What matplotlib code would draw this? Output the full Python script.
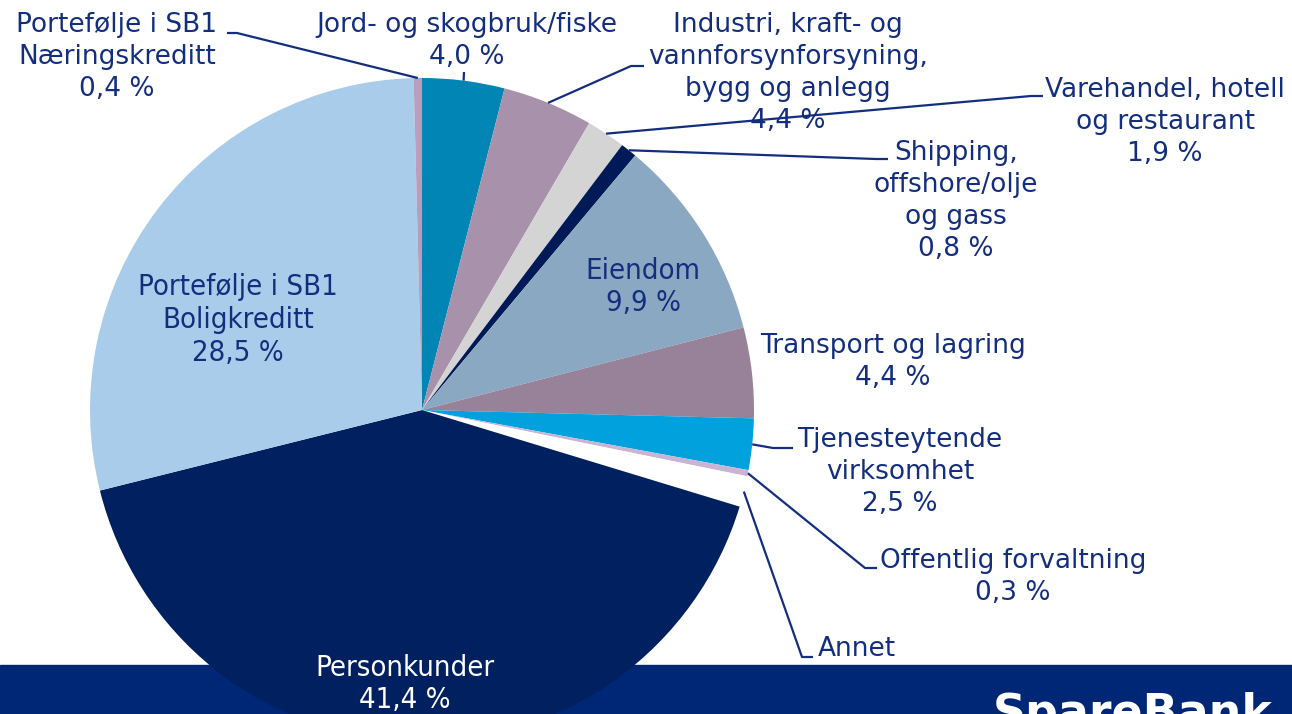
import matplotlib
matplotlib.use("Agg")
import matplotlib.pyplot as plt
import numpy as np
from matplotlib import font_manager
from matplotlib.patches import Rectangle

# Segments, clockwise from 12 o'clock
names = [
    "Jord- og skogbruk/fiske",
    "Industri, kraft- og\nvannforsynforsyning,\nbygg og anlegg",
    "Varehandel, hotell\nog restaurant",
    "Shipping,\noffshore/olje\nog gass",
    "Eiendom",
    "Transport og lagring",
    "Tjenesteytende\nvirksomhet",
    "Offentlig forvaltning",
    "Annet",
    "Personkunder",
    "Portefølje i SB1\nBoligkreditt",
    "Portefølje i SB1\nNæringskreditt",
]
shares = [4.0, 4.4, 1.9, 0.8, 9.9, 4.4, 2.5, 0.3, 1.5, 41.4, 28.5, 0.4]
show_pct = [True] * 8 + [False, True, True, True]
colors = ["#0085B5", "#A891AB", "#D4D4D4", "#001A57", "#8BA8C3", "#978299",
          "#00A1DD", "#C9B5D3", "#FFFFFF", "#00205F", "#A9CCEA", "#B99DBC"]

W, H = 1292, 714
CX, CY, R = 422, 410, 332  # pie centre / radius in image pixels
NAVY = "#132E7E"

# label block centre (image px), leader elbow points (image px) or None
label_pos = [(467, 41), (788, 73), (1165, 122), (956, 201), (643, 287), (893, 362),
             (900, 472), (1013, 577), (818, 649), (405, 684), (238, 320), (117, 57)]
elbows = [
    [(464, 72)],
    [(631, 66), (644, 66)],
    [(1031, 96), (1043, 96)],
    [(876, 159), (888, 159)],
    None,
    None,
    [(773, 448), (793, 448)],
    [(865, 568), (877, 568)],
    [(802, 657), (813, 657)],
    None,
    None,
    [(237, 33), (227, 33)],
]
inside = [False, False, False, False, True, False, False, False, False, True, True, False]

available = {f.name for f in font_manager.fontManager.ttflist}
if "Liberation Sans Narrow" in available:
    narrow = dict(family="Liberation Sans Narrow")
else:
    narrow = dict(family="DejaVu Sans", fontstretch="condensed")


def fy(y):
    return H - y


fig = plt.figure(figsize=(W / 100, H / 100), dpi=100)
ax = fig.add_axes([0, 0, 1, 1])

# footer banner
ax.add_patch(Rectangle((0, 0), W, fy(665), color="#002776", zorder=0))
ax.text(993, fy(727), "SpareBank", color="white", fontsize=33, fontweight="bold",
        ha="left", va="baseline", zorder=5)

wedges, _ = ax.pie(shares, colors=colors, startangle=90, counterclock=False,
                   center=(CX, fy(CY)), radius=R, wedgeprops=dict(linewidth=0))
for w in wedges:
    w.set_zorder(2)

# labels and leader lines
cum = np.cumsum([0] + shares[:-1])
for i, name in enumerate(names):
    txt = name
    if show_pct[i]:
        txt += "\n" + f"{shares[i]:.1f} %".replace(".", ",")
    x, y = label_pos[i]
    if name == "Annet":
        ax.text(x, fy(y), txt, color=NAVY, fontsize=19, ha="left", va="center", zorder=6)
    elif inside[i]:
        col = "white" if name == "Personkunder" else NAVY
        ax.text(x, fy(y), txt, color=col, fontsize=21, ha="center",
                va="center", multialignment="center", linespacing=1.22, zorder=6, **narrow)
    else:
        ax.text(x, fy(y), txt, color=NAVY, fontsize=19, ha="center", va="center",
                multialignment="center", linespacing=1.3, zorder=6)
    if elbows[i] is not None:
        mid = np.deg2rad(90 - (cum[i] + shares[i] / 2) * 3.6)
        pts = [(CX + R * np.cos(mid), CY - R * np.sin(mid))] + elbows[i]
        xs = [p[0] for p in pts]
        ys = [fy(p[1]) for p in pts]
        ax.plot(xs, ys, color=NAVY, lw=1.6, zorder=4, solid_capstyle="butt")

ax.set_xlim(0, W)
ax.set_ylim(0, H)
ax.set_aspect("auto")
ax.axis("off")

fig.savefig("out.png", dpi=100)
